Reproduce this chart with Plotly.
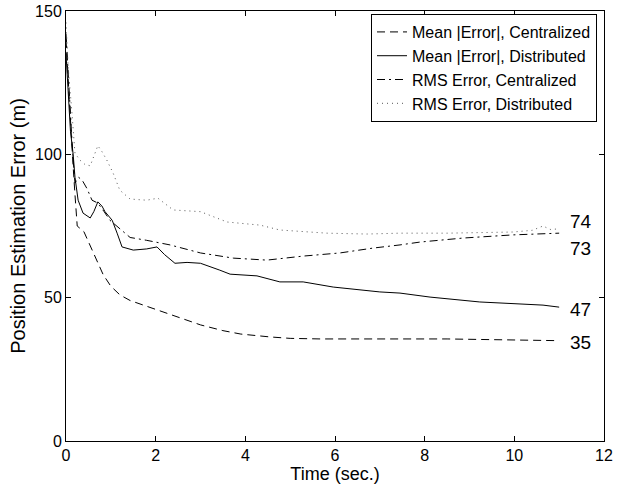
import plotly.graph_objects as go

# Mean |Error|, Centralized (dashed)
t_mc = [0, 0.05, 0.1, 0.15, 0.2, 0.25, 0.4, 0.6, 0.83, 1.0, 1.2, 1.43, 1.8, 2.1, 2.5, 3.0, 3.5, 3.9, 4.55, 5.0, 5.67, 6.5, 7.45, 8.5, 9.5, 10.5, 11.0]
v_mc = [140, 125, 110, 98, 86, 75, 73, 66, 58, 54, 51, 49, 47, 45.3, 43, 40.5, 38.5, 37.3, 36.3, 35.8, 35.6, 35.5, 35.6, 35.6, 35.3, 35.1, 35]

# Mean |Error|, Distributed (solid)
t_md = [0, 0.05, 0.1, 0.16, 0.2, 0.27, 0.38, 0.54, 0.62, 0.71, 0.8, 0.87, 1.03, 1.14, 1.25, 1.5, 1.8, 2.03, 2.2, 2.43, 2.7, 3.0, 3.2, 3.43, 3.66, 4.26, 4.77, 5.29, 5.96, 6.62, 7.0, 7.45, 8.12, 9.23, 10.1, 10.64, 11.0]
v_md = [135, 120, 108, 100, 92, 84, 79.5, 77.8, 80, 83.4, 82, 80, 77, 72.5, 67.7, 66.6, 67, 67.7, 65, 62, 62.3, 62, 61, 59.6, 58.2, 57.6, 55.5, 55.5, 53.7, 52.7, 52, 51.6, 50.2, 48.5, 47.8, 47.4, 46.7]

# RMS Error, Centralized (dash-dot)
t_rc = [0, 0.05, 0.1, 0.15, 0.2, 0.28, 0.36, 0.47, 0.58, 0.71, 0.85, 0.98, 1.16, 1.43, 1.8, 2.32, 3.0, 3.43, 3.73, 4.48, 5.29, 6.11, 6.85, 7.45, 7.9, 8.86, 9.97, 11.0]
v_rc = [142, 128, 112, 100, 90, 92, 91, 88, 84, 83, 80, 77, 74.6, 71, 70, 68.4, 65.6, 64.5, 63.8, 63.1, 64.5, 65.6, 67.3, 68.4, 69.4, 70.8, 71.9, 72.5]

# RMS Error, Distributed (dotted)
t_rd = [0, 0.05, 0.13, 0.2, 0.31, 0.42, 0.54, 0.62, 0.71, 0.8, 0.91, 1.05, 1.2, 1.43, 1.8, 2.05, 2.39, 3.0, 3.37, 3.59, 4.33, 4.77, 5.82, 6.71, 7.45, 8.5, 9.97, 10.4, 10.64, 10.8, 11.0]
v_rd = [146, 130, 115, 100.4, 98, 96.5, 96, 99, 103, 101, 98, 93.5, 87.5, 84.4, 84, 84.7, 80.6, 80, 77.8, 76.4, 75.3, 73.6, 72.5, 72.2, 72.5, 72.5, 72.9, 73.5, 75, 73.8, 74]

end_labels = ["74", "73", "47", "35"]
end_label_y = [76.4, 67, 45.7, 34.5]
end_label_x = 11.2

FONT = "Liberation Sans, Arial, Helvetica"

fig = go.Figure()
fig.add_trace(go.Scatter(x=t_mc, y=v_mc, mode="lines", name="Mean |Error|, Centralized",
                         line=dict(color="black", width=1, dash="8px,5px")))
fig.add_trace(go.Scatter(x=t_md, y=v_md, mode="lines", name="Mean |Error|, Distributed",
                         line=dict(color="black", width=1)))
fig.add_trace(go.Scatter(x=t_rc, y=v_rc, mode="lines", name="RMS Error, Centralized",
                         line=dict(color="black", width=1, dash="8px,4px,2px,4px")))
fig.add_trace(go.Scatter(x=t_rd, y=v_rd, mode="lines", name="RMS Error, Distributed",
                         line=dict(color="#555555", width=1, dash="1px,4px")))

for lab, ly in zip(end_labels, end_label_y):
    fig.add_annotation(x=end_label_x, y=ly, text=lab, showarrow=False, xanchor="left",
                       yanchor="middle", font=dict(size=19, color="black", family=FONT))

axis_common = dict(showline=True, linecolor="black", linewidth=1, mirror="ticks",
                   ticks="inside", ticklen=5, tickcolor="black", showgrid=False, zeroline=False,
                   automargin=False, ticklabeloverflow="allow",
                   tickfont=dict(size=16, color="black", family=FONT))

fig.update_layout(
    width=635, height=486,
    margin=dict(l=66, r=31, t=11, b=45),
    paper_bgcolor="white", plot_bgcolor="white",
    font=dict(family=FONT, color="black"),
    xaxis=dict(range=[0, 12], tickvals=[0, 2, 4, 6, 8, 10, 12],
               title=dict(text="Time (sec.)", font=dict(size=18), standoff=0), **axis_common),
    yaxis=dict(range=[0, 150], tickvals=[0, 50, 100, 150],
               title=dict(text="Position Estimation Error (m)", font=dict(size=20), standoff=4), **axis_common),
    legend=dict(x=0.987, y=0.993, xanchor="right", yanchor="top", bordercolor="black", borderwidth=1,
                bgcolor="white", font=dict(size=16, color="black", family=FONT), tracegroupgap=0,
                itemwidth=30),
    showlegend=True,
)

# remove the default 8px page margin so the figure fills the window exactly
fig.write_html("out.html", config={"displayModeBar": False},
               post_script="document.body.style.margin='0';")
